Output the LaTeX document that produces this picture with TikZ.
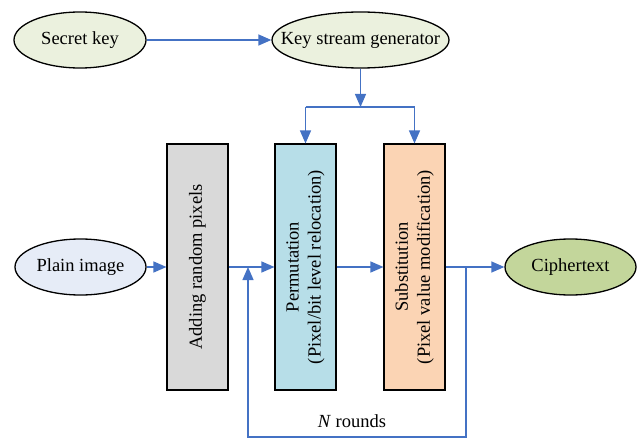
\documentclass[tikz,border=0pt]{standalone}
\usepackage{fontspec}
\setmainfont{Liberation Serif}
\usepackage{xcolor}
\usetikzlibrary{arrows.meta,positioning,calc,shapes.geometric}
\definecolor{flowblue}{HTML}{4472C4}
\definecolor{keyfill}{HTML}{EBF1DE}
\definecolor{plainfill}{HTML}{E6ECF7}
\definecolor{cipherfill}{HTML}{C3D69B}
\definecolor{addfill}{HTML}{D9D9D9}
\definecolor{permfill}{HTML}{B7DEE8}
\definecolor{substfill}{HTML}{FBD4B4}
\tikzset{
  oval/.style={ellipse, draw=black, line width=1.3pt, inner ysep=0pt, inner xsep=-20pt,
    minimum height=56pt, font=\fontsize{18.5}{22}\selectfont},
  stagebox/.style={draw=black, line width=1.1pt, rotate=90, inner sep=0pt,
    minimum width=246pt, minimum height=61pt, align=center,
    font=\fontsize{18.5}{22}\selectfont},
  lbl/.style={font=\fontsize{18.5}{22}\selectfont},
  flow/.style={-{Triangle[length=13pt, width=11pt]}, flowblue, line width=1.3pt},
  wire/.style={flowblue, line width=1.3pt}
}

\begin{document}
\begin{tikzpicture}[x=1pt, y=-1pt]
  \useasboundingbox (0,0) rectangle (644,441);

  % key side
  \node[oval, fill=keyfill, minimum width=132pt] (skey) at (80,40) {Secret key};
  \node[oval, fill=keyfill, minimum width=177pt] (ksg) at (360.5,40) {Key stream generator};

  % image path
  \node[oval, fill=plainfill, minimum width=131pt] (plain) at (80.5,267) {Plain image};
  \node[stagebox, fill=addfill] (addpix) at (197.5,267) {Adding random pixels};
  \node[stagebox, fill=permfill] (perm) at (305.5,267) {Permutation\\(Pixel/bit level relocation)};
  \node[stagebox, fill=substfill] (subst) at (414.5,267) {Substitution\\(Pixel value modification)};
  \node[oval, fill=cipherfill, minimum width=131pt] (cipher) at (570.5,267) {Ciphertext};

  % key stream
  \draw[flow] (skey) -- (ksg);
  \coordinate (fork) at (360.5,107);
  \draw[flow] (ksg) -- (fork);
  \draw[wire] (perm |- fork) -- (subst |- fork);
  \draw[flow] (perm |- fork) -- (perm);
  \draw[flow] (subst |- fork) -- (subst);

  % main flow
  \draw[flow] (plain) -- (addpix);
  \draw[flow] (addpix) -- (perm);
  \draw[flow] (perm) -- (subst);
  \draw[flow] (subst) -- (cipher);

  % rounds loop
  \coordinate (split) at (466,267);
  \coordinate (join) at (248,267);
  \coordinate (back) at (248,437);
  \draw[flow] (split) |- (back) -- (join);
  \node[lbl] (rounds) at (352,421) {\textit{N} rounds};
\end{tikzpicture}
\end{document}
